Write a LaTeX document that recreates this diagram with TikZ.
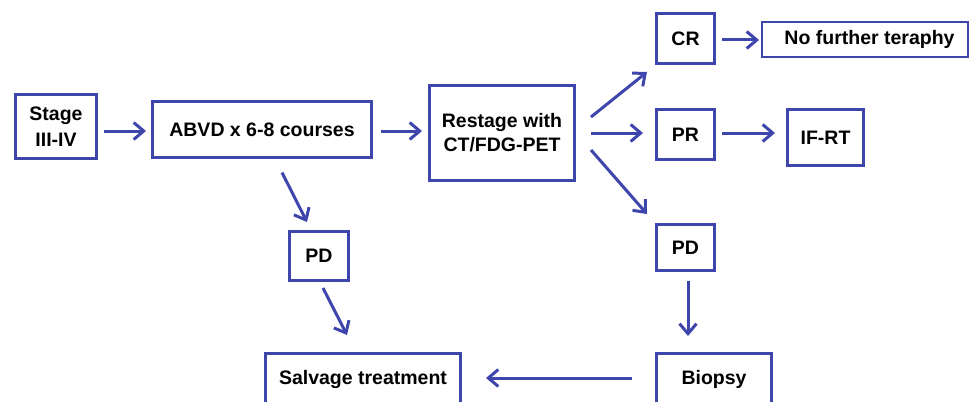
\documentclass[tikz,border=0pt]{standalone}
\usepackage{fontspec}
\setmainfont{Liberation Sans}
\usetikzlibrary{arrows.meta}
\definecolor{fcblue}{RGB}{62,70,172}
\begin{document}
\begin{tikzpicture}[x=1pt,y=-1pt,
  box/.style={draw=fcblue,line width=3pt,fill=white,inner sep=0pt,outer sep=0pt,align=center,
    font=\bfseries\fontsize{19.5}{24}\selectfont},
  conn/.style={draw=fcblue,line width=3pt,-{Straight Barb[length=10pt,width=17pt,line width=3pt]}}]
\useasboundingbox (0,0) rectangle (973,401);
\node[box,minimum width=81pt,minimum height=64pt] (stage) at (56,126.5) {Stage\\[2pt]III-IV};
\node[box,minimum width=219pt,minimum height=56pt] (abvd) at (262,129.5) {ABVD x 6-8 courses};
\node[box,minimum width=145pt,minimum height=95pt] (restage) at (502,133) {Restage with\\CT/FDG-PET};
\node[box,minimum width=58pt,minimum height=50pt] (cr) at (685.5,38.5) {CR};
\node[box,line width=2.2pt,minimum width=206pt,minimum height=35pt,anchor=west] (nft) at (762,39.5) {\hspace{9pt}No further teraphy\hfill};
\node[box,minimum width=58pt,minimum height=50pt] (pr) at (685.5,134.5) {PR};
\node[box,line width=3.5pt,minimum width=76pt,minimum height=56pt] (ifrt) at (825.5,137.5) {IF-RT};
\node[box,minimum width=58pt,minimum height=46pt] (pd2) at (685.5,247.5) {PD};
\node[box,minimum width=115pt,minimum height=51pt] (biopsy) at (714,379) {Biopsy};
\node[box,minimum width=59pt,minimum height=49pt] (pd1) at (319,256) {PD};
\node[box,minimum width=195pt,minimum height=51pt] (salvage) at (363,379) {Salvage treatment};
\draw[conn] ([shift={(7,4.5)}]stage.east) -- ([shift={(-6.5,1.5)}]abvd.west);
\draw[conn] ([shift={(9.5,1.5)}]abvd.east) -- ([shift={(-7.5,-2)}]restage.west);
\draw[conn] ([shift={(16.5,-16)}]restage.east) -- ([shift={(-9.5,8.5)}]cr.south west);
\draw[conn] ([shift={(7.5,1.5)}]cr.east) -- ([shift={(-3,0.5)}]nft.west);
\draw[conn] ([shift={(16.5,0)}]restage.east) -- ([shift={(-13.5,-1.5)}]pr.west);
\draw[conn] ([shift={(7.5,-1.5)}]pr.east) -- ([shift={(-12.5,-4.5)}]ifrt.west);
\draw[conn] ([shift={(16.5,17)}]restage.east) -- ([shift={(-9.5,-10.5)}]pd2.north west);
\draw[conn] ([shift={(2.5,10.5)}]pd2.south) -- ([shift={(31.5,-17.5)}]biopsy.north west);
\draw[conn] ([shift={(-24.5,-1)}]biopsy.west) -- ([shift={(25.5,-1)}]salvage.east);
\draw[conn] ([shift={(20,15)}]abvd.south) -- ([shift={(-12,-9.5)}]pd1.north);
\draw[conn] ([shift={(4,7.5)}]pd1.south) -- ([shift={(-16,-18.5)}]salvage.north);
\end{tikzpicture}
\end{document}
